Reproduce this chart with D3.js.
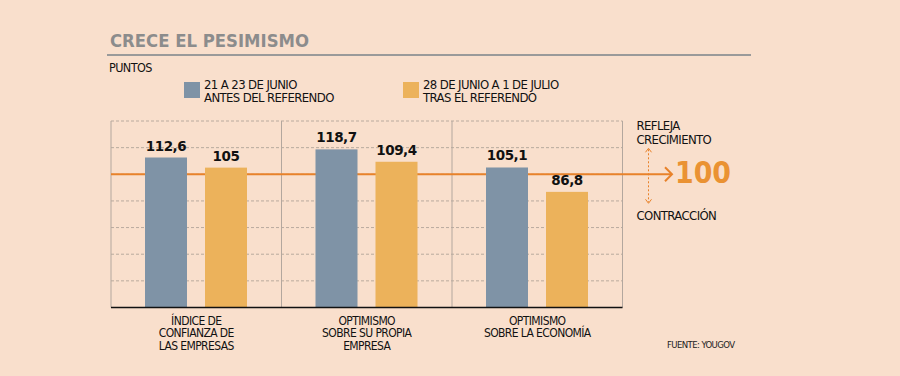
<!DOCTYPE html>
<html>
<head>
<meta charset="utf-8">
<script src="https://cdn.jsdelivr.net/npm/d3@7"></script>
<style>
  body { margin: 0; background: #f9dfcc; }
  svg { display: block; }
  .narrow { font-family: "Liberation Sans Narrow", "DejaVu Sans Condensed", "DejaVu Sans", sans-serif; font-stretch: condensed; letter-spacing: -0.6px; }
</style>
</head>
<body>
<svg id="chart"></svg>
<script>
// datos
const categories = [
    ["ÍNDICE DE", "CONFIANZA DE", "LAS EMPRESAS"],
    ["OPTIMISMO", "SOBRE SU PROPIA", "EMPRESA"],
    ["OPTIMISMO", "SOBRE LA ECONOMÍA"]
];
const antes = [112.6, 118.7, 105.1];
const tras = [105, 109.4, 86.8];
const seriesKeys = ["antes", "tras"];
const seriesNames = [
    ["21 A 23 DE JUNIO", "ANTES DEL REFERENDO"],
    ["28 DE JUNIO A 1 DE JULIO", "TRAS EL REFERENDO"]
];
const yTicks = [0, 20, 40, 60, 80, 100, 120, 140];
const reference = 100;

const width = 900;
const height = 376;
const colors = { antes: "#7f93a6", tras: "#ecb25b" };
const orange = "#e8822a";

const locale = d3.formatLocale({ decimal: ",", thousands: ".", grouping: [3], currency: ["", "€"] });
const fmt = locale.format("~f");

const svg = d3.select("#chart").attr("width", width).attr("height", height);
svg.append("rect").attr("width", width).attr("height", height).attr("fill", "#f9dfcc");

// titulo
svg.append("text")
    .attr("x", 110).attr("y", 46.5)
    .attr("font-family", "DejaVu Sans, sans-serif")
    .attr("font-weight", "bold")
    .attr("font-size", 18.5)
    .attr("textLength", 199)
    .attr("lengthAdjust", "spacingAndGlyphs")
    .attr("fill", "#8c8c8c")
    .text("CRECE EL PESIMISMO");

svg.append("line")
    .attr("x1", 107).attr("x2", 751)
    .attr("y1", 55).attr("y2", 55)
    .attr("stroke", "#9a9a9a").attr("stroke-width", 2);

svg.append("text")
    .attr("class", "narrow")
    .attr("x", 109).attr("y", 71.5)
    .attr("font-size", 12.5)
    .attr("fill", "#111")
    .text("PUNTOS");

// leyenda
const legendX = [184, 403];
const legend = svg.append("g").selectAll("g")
    .data(seriesKeys)
    .enter()
    .append("g")
    .attr("transform", function (d, i) { return "translate(" + legendX[i] + ",82)"; });

legend.append("rect")
    .attr("width", 16).attr("height", 16)
    .attr("fill", function (d) { return colors[d]; });

legend.append("text")
    .attr("class", "narrow")
    .attr("x", 20).attr("y", 7)
    .attr("font-size", 13)
    .attr("fill", "#111")
    .selectAll("tspan")
    .data(function (d, i) { return seriesNames[i]; })
    .enter()
    .append("tspan")
    .attr("x", 20)
    .attr("dy", function (d, i) { return i === 0 ? 0 : 13.2; })
    .text(function (d) { return d; });

// escalas
const x0 = d3.scaleBand().domain(d3.range(categories.length)).range([111, 622.5]).padding(0);
const x1 = d3.scaleBand().domain(seriesKeys).range([34, 136]).paddingInner(0.3);
const y = d3.scaleLinear().domain([0, 140]).range([307.5, 121]);

// rejilla
svg.append("g").selectAll("line")
    .data(yTicks.filter(function (d) { return d > 0; }))
    .enter()
    .append("line")
    .attr("x1", 111).attr("x2", 622.5)
    .attr("y1", function (d) { return y(d); })
    .attr("y2", function (d) { return y(d); })
    .attr("stroke", "#b9aa9e")
    .attr("stroke-width", 1)
    .attr("stroke-dasharray", "3,2");

const dividers = d3.range(categories.length + 1).map(function (i) {
    return i < categories.length ? x0(i) : x0.range()[1];
});
svg.append("g").selectAll("line")
    .data(dividers)
    .enter()
    .append("line")
    .attr("x1", function (d) { return d; })
    .attr("x2", function (d) { return d; })
    .attr("y1", y(140)).attr("y2", y(0))
    .attr("stroke", "#b3a79e")
    .attr("stroke-width", 1);

// linea de referencia 100
const refY = y(reference);
svg.append("line")
    .attr("x1", 111).attr("x2", 672)
    .attr("y1", refY).attr("y2", refY)
    .attr("stroke", orange).attr("stroke-width", 2);
svg.append("path")
    .attr("d", "M665," + (refY - 7) + " L672," + refY + " L665," + (refY + 7))
    .attr("fill", "none").attr("stroke", orange).attr("stroke-width", 2);

svg.append("text")
    .attr("x", 675).attr("y", refY + 9)
    .attr("font-family", "DejaVu Sans, sans-serif")
    .attr("font-weight", "bold")
    .attr("font-size", 30)
    .attr("textLength", 56)
    .attr("lengthAdjust", "spacingAndGlyphs")
    .attr("fill", "#ea9233")
    .text(fmt(reference));

// flecha punteada
svg.append("line")
    .attr("x1", 648.5).attr("x2", 648.5)
    .attr("y1", refY - 25).attr("y2", refY + 28)
    .attr("stroke", orange).attr("stroke-width", 1)
    .attr("stroke-dasharray", "2,2");
svg.append("path")
    .attr("d", "M645.5," + (refY - 22) + " L648.5," + (refY - 26) + " L651.5," + (refY - 22) +
        " M645.5," + (refY + 25) + " L648.5," + (refY + 29) + " L651.5," + (refY + 25))
    .attr("fill", "none").attr("stroke", orange).attr("stroke-width", 1);

svg.append("text")
    .attr("class", "narrow")
    .attr("x", 636.5).attr("y", 129.5)
    .attr("font-size", 13)
    .attr("fill", "#111")
    .selectAll("tspan")
    .data(["REFLEJA", "CRECIMIENTO"])
    .enter()
    .append("tspan")
    .attr("x", 636.5)
    .attr("dy", function (d, i) { return i === 0 ? 0 : 14; })
    .text(function (d) { return d; });

svg.append("text")
    .attr("class", "narrow")
    .attr("x", 636.5).attr("y", 219.5)
    .attr("font-size", 13)
    .attr("fill", "#111")
    .text("CONTRACCIÓN");

// barras
const groups = svg.append("g").selectAll("g")
    .data(categories.map(function (c, i) { return { i: i, antes: antes[i], tras: tras[i] }; }))
    .enter()
    .append("g")
    .attr("transform", function (d) { return "translate(" + x0(d.i) + ",0)"; });

const bars = groups.selectAll("g")
    .data(function (d) { return seriesKeys.map(function (k) { return { key: k, value: d[k] }; }); })
    .enter()
    .append("g");

bars.append("rect")
    .attr("x", function (d) { return x1(d.key); })
    .attr("width", x1.bandwidth())
    .attr("y", function (d) { return y(d.value); })
    .attr("height", function (d) { return y(0) - y(d.value); })
    .attr("fill", function (d) { return colors[d.key]; });

bars.append("text")
    .attr("x", function (d) { return x1(d.key) + x1.bandwidth() / 2; })
    .attr("y", function (d) { return y(d.value) - 7; })
    .attr("text-anchor", "middle")
    .attr("font-family", "DejaVu Sans, sans-serif")
    .attr("font-weight", "bold")
    .attr("font-size", 13.5)
    .attr("letter-spacing", "-0.4px")
    .attr("fill", "#111")
    .text(function (d) { return fmt(d.value); });

// eje base
svg.append("line")
    .attr("x1", 111).attr("x2", 622.5)
    .attr("y1", y(0)).attr("y2", y(0))
    .attr("stroke", "#111").attr("stroke-width", 1.5);

// etiquetas de categoria
svg.append("g").selectAll("text")
    .data(categories)
    .enter()
    .append("text")
    .attr("class", "narrow")
    .attr("text-anchor", "middle")
    .attr("font-size", 12)
    .attr("fill", "#111")
    .attr("y", 324.5)
    .each(function (lines, i) {
        const cx = x0(i) + x0.bandwidth() / 2;
        d3.select(this).selectAll("tspan")
            .data(lines)
            .enter()
            .append("tspan")
            .attr("x", cx)
            .attr("dy", function (d, j) { return j === 0 ? 0 : 12.8; })
            .text(function (d) { return d; });
    });

// fuente
svg.append("text")
    .attr("class", "narrow")
    .attr("x", 667).attr("y", 348)
    .attr("font-size", 9.5)
    .attr("fill", "#222")
    .text("FUENTE: YOUGOV");
</script>
</body>
</html>
